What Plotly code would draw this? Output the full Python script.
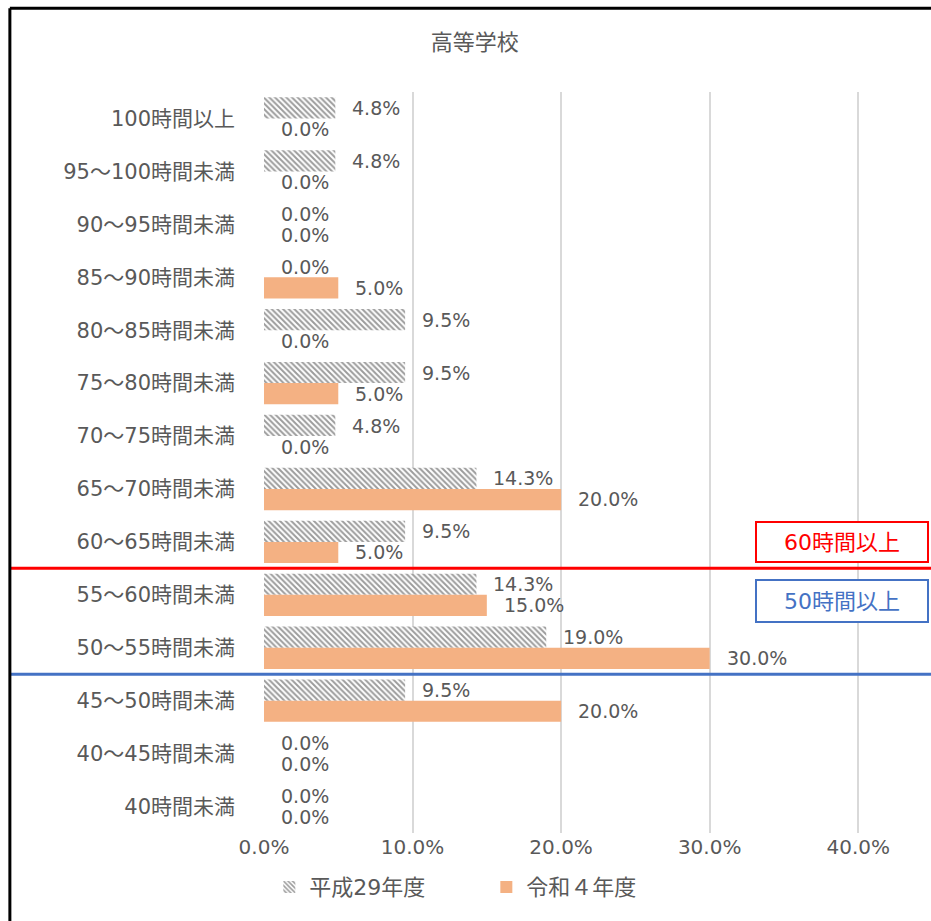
import plotly.graph_objects as go

categories = ["100時間以上", "95～100時間未満", "90～95時間未満", "85～90時間未満", "80～85時間未満",
              "75～80時間未満", "70～75時間未満", "65～70時間未満", "60～65時間未満", "55～60時間未満",
              "50～55時間未満", "45～50時間未満", "40～45時間未満", "40時間未満"]
h29 = [0.048, 0.048, 0.0, 0.0, 0.095, 0.095, 0.048, 0.143, 0.095, 0.143, 0.190, 0.095, 0.0, 0.0]
r4 = [0.0, 0.0, 0.0, 0.050, 0.0, 0.050, 0.0, 0.200, 0.050, 0.150, 0.300, 0.200, 0.0, 0.0]
series_names = ["平成29年度", "令和４年度"]
x_ticks = [0.0, 0.1, 0.2, 0.3, 0.4]

FONT = "DejaVu Sans, Noto Sans CJK JP, sans-serif"
GRAY = "#595959"
ORANGE = "#F4B183"

fig = go.Figure()
fig.add_trace(go.Bar(
    y=categories, x=h29, orientation="h", name=series_names[0],
    marker=dict(color="white", line=dict(width=0),
                pattern=dict(shape="\\", fgcolor="#3a3a3a", bgcolor="white", size=4, solidity=0.5)),
))
fig.add_trace(go.Bar(
    y=categories, x=r4, orientation="h", name=series_names[1],
    marker=dict(color=ORANGE, line=dict(width=0)),
))

annotations = []
for cat, a, b in zip(categories, h29, r4):
    annotations.append(dict(x=a, y=cat, text=f"{a*100:.1f}%", showarrow=False, xanchor="left",
                            xshift=15, yshift=10.5, font=dict(size=19, color=GRAY, family=FONT)))
    annotations.append(dict(x=b, y=cat, text=f"{b*100:.1f}%", showarrow=False, xanchor="left",
                            xshift=15, yshift=-10.5, font=dict(size=19, color=GRAY, family=FONT)))

annotations.append(dict(xref="paper", yref="y", x=0.997, y=8.5, yshift=5, xanchor="right", yanchor="bottom",
                        text="60時間以上", showarrow=False, width=168, height=36, align="center",
                        font=dict(size=22, color="#FF0000", family=FONT),
                        bordercolor="#FF0000", borderwidth=2, bgcolor="white"))
annotations.append(dict(xref="paper", yref="y", x=0.997, y=8.5, yshift=-11, xanchor="right", yanchor="top",
                        text="50時間以上", showarrow=False, width=168, height=38, align="center",
                        font=dict(size=22, color="#4472C4", family=FONT),
                        bordercolor="#4472C4", borderwidth=2, bgcolor="white"))

shapes = [
    dict(type="line", xref="paper", yref="y", x0=-0.381, x1=1.01, y0=8.5, y1=8.5,
         line=dict(color="#FF0000", width=3)),
    dict(type="line", xref="paper", yref="y", x0=-0.381, x1=1.01, y0=10.5, y1=10.5,
         line=dict(color="#4472C4", width=3)),
    dict(type="line", xref="paper", yref="paper", x0=-0.381, x1=-0.381, y0=-0.2, y1=1.113,
         line=dict(color="black", width=3)),
    dict(type="line", xref="paper", yref="paper", x0=-0.381, x1=1.01, y0=1.113, y1=1.113,
         line=dict(color="black", width=3)),
]

fig.update_layout(
    width=931, height=921,
    margin=dict(l=264, r=0, t=92, b=88),
    paper_bgcolor="white", plot_bgcolor="white",
    barmode="group", bargap=0.2, bargroupgap=0,
    font=dict(family=FONT, color=GRAY, size=20),
    title=dict(text="高等学校", x=0.51, xanchor="center", y=1 - 42 / 921, yanchor="middle",
               font=dict(size=22, color=GRAY, family=FONT)),
    xaxis=dict(range=[0, 0.449], tickvals=x_ticks, tickformat=".1%", showgrid=True,
               gridcolor="#D9D9D9", gridwidth=2, zeroline=False, showline=False,
               tickfont=dict(size=20, color=GRAY), ticks=""),
    yaxis=dict(autorange="reversed", type="category", showgrid=False, showline=False, zeroline=False,
               ticks="", tickfont=dict(size=21, color=GRAY), ticklabelstandoff=28),
    legend=dict(orientation="h", x=0.008, xanchor="left", y=-0.073, yanchor="middle",
                font=dict(size=22, color=GRAY), itemwidth=30, entrywidth=172, entrywidthmode="pixels"),
    annotations=annotations,
    shapes=shapes,
)

fig.write_html("out.html", config={"displayModeBar": False},
               post_script="document.body.style.margin='0';document.body.style.overflow='hidden';")
